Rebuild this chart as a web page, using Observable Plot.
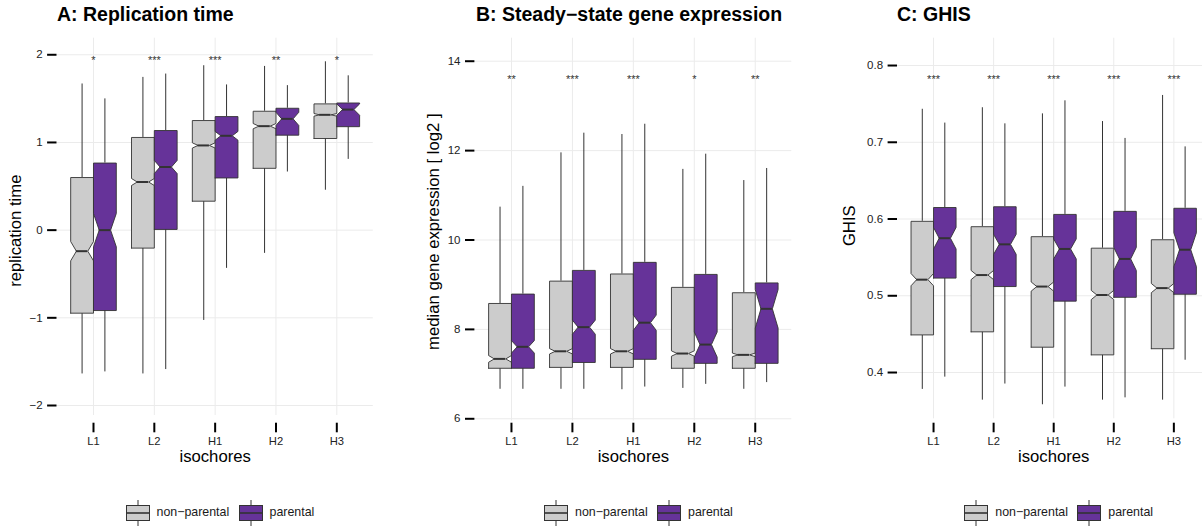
<!DOCTYPE html>
<html>
<head>
<meta charset="utf-8">
<script src="https://cdn.jsdelivr.net/npm/d3@7"></script>
<script src="https://cdn.jsdelivr.net/npm/@observablehq/plot@0.6"></script>
<style>
  body { margin: 0; background: #fff; font-family: "Liberation Sans", Arial, sans-serif; }
  #root { position: relative; width: 1202px; height: 529px; overflow: hidden; background: #fff; }
  .panel { position: absolute; top: 0; }
  .panel svg { max-width: none !important; display: block; }
  .title { position: absolute; top: 3px; font-weight: bold; font-size: 19.5px; line-height: 22px; color: #000; white-space: nowrap; }
  .legend { position: absolute; top: 500px; height: 26px; }
  .legend svg { position: absolute; top: 0; }
  .legend span { position: absolute; top: 4px; font-size: 12.4px; line-height: 17px; color: #1a1a1a; white-space: nowrap; }
</style>
</head>
<body>
<div id="root"></div>
<script>
// ---------- data ----------
const isochores = ["L1", "L2", "H1", "H2", "H3"];
const groups = ["non\u2212parental", "parental"];
const groupColors = ["#CCCCCC", "#663399"];

// each entry per isochore: [lower whisker, Q1, median, Q3, upper whisker, notch half-width]
const replicationNonParental = [
  [-1.64, -0.947, -0.24, 0.600, 1.667, 0.11],
  [-1.64, -0.205, 0.549, 1.057, 1.742, 0.04],
  [-1.03, 0.330, 0.966, 1.250, 1.875, 0.03],
  [-0.265, 0.705, 1.186, 1.356, 1.867, 0.03],
  [0.455, 1.045, 1.315, 1.440, 1.920, 0.015]
];
const replicationParental = [
  [-1.617, -0.917, 0.000, 0.765, 1.497, 0.19],
  [-1.59, 0.008, 0.720, 1.136, 1.780, 0.075],
  [-0.436, 0.595, 1.076, 1.295, 1.656, 0.05],
  [0.663, 1.083, 1.269, 1.390, 1.648, 0.075],
  [0.807, 1.180, 1.375, 1.450, 1.760, 0.065]
];
const replicationStars = ["*", "***", "***", "**", "*"];

const expressionNonParental = [
  [6.66, 7.13, 7.34, 8.58, 10.735, 0.075],
  [6.66, 7.15, 7.51, 9.08, 11.95, 0.06],
  [6.65, 7.15, 7.51, 9.24, 12.36, 0.06],
  [6.68, 7.13, 7.46, 8.94, 11.58, 0.06],
  [6.66, 7.13, 7.43, 8.82, 11.33, 0.04]
];
const expressionParental = [
  [6.66, 7.13, 7.61, 8.79, 11.20, 0.14],
  [6.66, 7.26, 8.05, 9.32, 12.39, 0.157],
  [6.71, 7.33, 8.15, 9.50, 12.59, 0.17],
  [6.77, 7.24, 7.66, 9.23, 11.92, 0.28],
  [6.81, 7.24, 8.46, 9.04, 11.60, 0.43]
];
const expressionStars = ["**", "***", "***", "*", "**"];

const ghisNonParental = [
  [0.378, 0.449, 0.521, 0.597, 0.743, 0.008],
  [0.364, 0.453, 0.527, 0.590, 0.745, 0.006],
  [0.358, 0.433, 0.512, 0.577, 0.737, 0.006],
  [0.364, 0.423, 0.501, 0.562, 0.727, 0.006],
  [0.364, 0.431, 0.510, 0.573, 0.761, 0.006]
];
const ghisParental = [
  [0.394, 0.523, 0.575, 0.615, 0.725, 0.014],
  [0.385, 0.512, 0.567, 0.616, 0.724, 0.013],
  [0.381, 0.493, 0.561, 0.606, 0.754, 0.013],
  [0.367, 0.498, 0.548, 0.610, 0.705, 0.015],
  [0.416, 0.502, 0.560, 0.614, 0.694, 0.022]
];
const ghisStars = ["***", "***", "***", "***", "***"];

const replicationTicks = [-2, -1, 0, 1, 2];
const expressionTicks = [6, 8, 10, 12, 14];
const ghisTicks = [0.4, 0.5, 0.6, 0.7, 0.8];

// ---------- drawing ----------
const root = document.getElementById("root");
const FONT = "'Liberation Sans', Arial, sans-serif";
const H = 480, FRAME_BOTTOM = 422.7, TOP = 37.7;
const HALF = 0.1875, NOTCH_IN = 0.375 * 0.25;

function panel(cfg) {
  const rows = [];
  isochores.forEach((iso, i) => {
    [[cfg.np, 0, -1], [cfg.p, 1, 1]].forEach(([arr, g, side]) => {
      const [lo, q1, med, q3, hi, nh] = arr[i];
      rows.push({iso, c: i + 1 + side * HALF, g, lo, q1, med, q3, hi, nh});
    });
  });
  const poly = rows.flatMap(r => {
    const a = r.c - HALF, b = r.c + HALF, d = NOTCH_IN;
    return [[a, r.q1], [a, r.med - r.nh], [a + d, r.med], [a, r.med + r.nh], [a, r.q3],
            [b, r.q3], [b, r.med + r.nh], [b - d, r.med], [b, r.med - r.nh], [b, r.q1], [a, r.q1]]
      .map(([x, y]) => ({x, y, key: r.iso + "-" + r.g, g: r.g}));
  });
  const stars = isochores.map((iso, i) => ({x: i + 1, text: cfg.stars[i]}));
  const gridInset = FRAME_BOTTOM - cfg.panelBottom;

  const chart = Plot.plot({
    width: cfg.width, height: H,
    marginLeft: cfg.marginLeft, marginRight: cfg.marginRight,
    marginTop: TOP, marginBottom: H - FRAME_BOTTOM,
    insetBottom: gridInset,
    style: {fontFamily: FONT, background: "transparent", overflow: "visible", maxWidth: "none"},
    x: {type: "linear", domain: [0.4, 5.6], axis: null},
    y: {domain: cfg.yDomain, axis: null},
    marks: [
      Plot.ruleY(cfg.ticks, {stroke: "#EBEBEB", strokeWidth: 1}),
      Plot.ruleX([1, 2, 3, 4, 5], {stroke: "#EBEBEB", strokeWidth: 1, insetBottom: gridInset}),
      Plot.ruleX(rows, {x: "c", y1: "q3", y2: "hi", stroke: "#333", strokeWidth: 1}),
      Plot.ruleX(rows, {x: "c", y1: "lo", y2: "q1", stroke: "#333", strokeWidth: 1}),
      Plot.line(poly.filter(d => d.g === 0), {x: "x", y: "y", z: "key", fill: groupColors[0], stroke: "#333", strokeWidth: 0.9, curve: "linear"}),
      Plot.line(poly.filter(d => d.g === 1), {x: "x", y: "y", z: "key", fill: groupColors[1], stroke: "#333", strokeWidth: 0.9, curve: "linear"}),
      Plot.ruleY(rows, {y: "med", x1: r => r.c - HALF + NOTCH_IN, x2: r => r.c + HALF - NOTCH_IN, stroke: "#333", strokeWidth: 2}),
      Plot.text(stars, {x: "x", y: () => cfg.starY, text: "text", fontSize: 11, fill: "#333", dy: 0.5}),
      Plot.axisY(cfg.ticks, {tickSize: 9.4, tickPadding: 5, strokeWidth: 2, stroke: "#000", fontSize: 11.5, fill: "#222", label: null, tickFormat: cfg.tickFormat}),
      Plot.axisX([1, 2, 3, 4, 5], {tickSize: 9.6, tickPadding: 4, strokeWidth: 2, stroke: "#000", fontSize: 11.2, fill: "#222", label: null, tickFormat: i => isochores[i - 1]}),
      Plot.text(["isochores"], {frameAnchor: "bottom", text: d => d, dy: 38.5, fontSize: 16.7, fill: "#000"}),
      Plot.text([cfg.yLabel], {frameAnchor: "left", textAnchor: "middle", text: d => d, rotate: -90, dx: cfg.yLabelDx, dy: cfg.yLabelDy, fontSize: 16.7, fill: "#000"})
    ]
  });
  const wrap = document.createElement("div");
  wrap.className = "panel";
  wrap.style.left = cfg.left + "px";
  wrap.style.width = cfg.width + "px";
  wrap.appendChild(chart);
  root.appendChild(wrap);

  const title = document.createElement("div");
  title.className = "title";
  title.style.left = cfg.titleLeft + "px";
  title.textContent = cfg.title;
  root.appendChild(title);

  const leg = document.createElement("div");
  leg.className = "legend";
  leg.style.left = cfg.legendLeft + "px";
  const key = (x, fill) => `<svg style="left:${x}px" width="25" height="26"><line x1="12" x2="12" y1="0" y2="26" stroke="#333" stroke-width="1"/><rect x="0.5" y="5.5" width="23" height="15" fill="${fill}" stroke="#333" stroke-width="1"/><line x1="0.5" x2="23.5" y1="13" y2="13" stroke="#333" stroke-width="1.6"/></svg>`;
  leg.innerHTML = key(0, groupColors[0]) + `<span style="left:31px">${groups[0]}</span>` +
                  key(113, groupColors[1]) + `<span style="left:144px">${groups[1]}</span>`;
  root.appendChild(leg);
}

panel({
  left: 0, width: 400, marginLeft: 56.5, marginRight: 27.2, panelBottom: 415,
  yDomain: [-2.114, 2.189], ticks: replicationTicks, tickFormat: d => d < 0 ? "\u2212" + Math.abs(d) : String(d),
  np: replicationNonParental, p: replicationParental, stars: replicationStars, starY: 1.94,
  yLabel: "replication time", yLabelDx: -41.5, yLabelDy: 0,
  title: "A: Replication time", titleLeft: 57, legendLeft: 125.5
});
panel({
  left: 400, width: 400, marginLeft: 74.4, marginRight: 8.7, panelBottom: 420.7,
  yDomain: [5.946, 14.515], ticks: expressionTicks, tickFormat: d => String(d),
  np: expressionNonParental, p: expressionParental, stars: expressionStars, starY: 13.61,
  yLabel: "median gene expression [ log2 ]", yLabelDx: -41.4, yLabelDy: 1,
  title: "B: Steady\u2212state gene expression", titleLeft: 476, legendLeft: 544
});
panel({
  left: 800, width: 420, marginLeft: 97, marginRight: 10.6, panelBottom: 418.3,
  yDomain: [0.3397, 0.8356], ticks: ghisTicks, tickFormat: d => d.toFixed(1),
  np: ghisNonParental, p: ghisParental, stars: ghisStars, starY: 0.782,
  yLabel: "GHIS", yLabelDx: -48, yLabelDy: -5,
  title: "C: GHIS", titleLeft: 897, legendLeft: 964.3
});
</script>
</body>
</html>
